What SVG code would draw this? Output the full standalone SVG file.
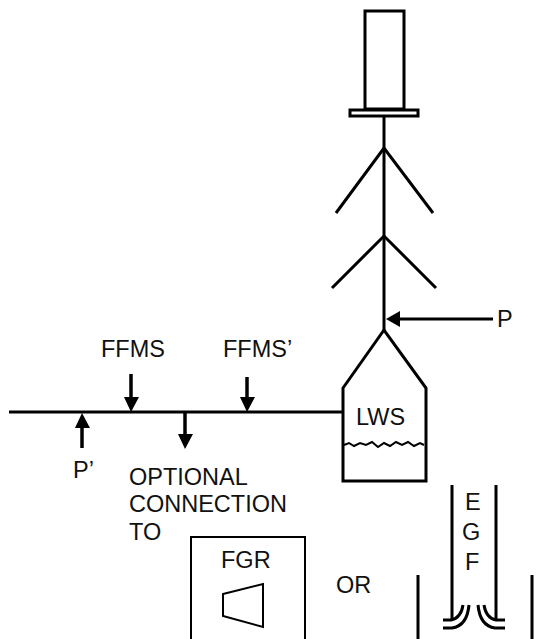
<svg xmlns="http://www.w3.org/2000/svg" width="538" height="639" viewBox="0 0 538 639">
<style>
.l{fill:none;stroke:#000;stroke-width:3}
.s{fill:none;stroke:#000;stroke-width:3.5}
.m{fill:none;stroke:#000;stroke-width:2}
.h{fill:#000;stroke:none}
text{font-family:"Liberation Sans",Arial,sans-serif;font-size:23.5px;fill:#111}
</style>
<rect width="538" height="639" fill="#fff"/>
<g id="connectors">
<path class="l" d="M384 117V330"/>
<path class="l" d="M336 213L384 148L433 213"/>
<path class="l" d="M332 288L384 236L436 288"/>
<path class="l" d="M9 412H343"/>
<path class="l" d="M493 319H398"/><path class="h" d="M386 319L400 311V327Z"/>
<path class="s" d="M131 374V400"/><path class="h" d="M131 412L124 397H139Z"/>
<path class="s" d="M247 377V400"/><path class="h" d="M247 412L240 397H255Z"/>
<path class="s" d="M82 448V425"/><path class="h" d="M82 413L75 428H90Z"/>
<path class="s" d="M185 413V437"/><path class="h" d="M185 449L178 434H193Z"/>
</g>
<g id="tank"><path class="l" d="M365 11H404V109H365Z"/><rect class="l" x="350" y="110" width="68" height="6"/></g>
<g id="LWS"><path class="l" d="M343 388L384 330L426 388V481H343Z"/>
<path class="m" d="M344 445l5-2 5 3 6-3 6 2 6-3 6 5 6-4 6 3 6-4 6 3 6-3 6 4 6-3 4 2"/>
<text x="356" y="425">LWS</text></g>
<g id="P"><text x="497" y="327">P</text></g>
<g id="P2"><text x="73" y="478">P’</text></g>
<g id="FFMS"><text x="101" y="357">FFMS</text></g>
<g id="FFMS2"><text x="223" y="357">FFMS’</text></g>
<g id="optional"><text x="129" y="485">OPTIONAL</text><text x="129" y="512">CONNECTION</text><text x="129" y="540">TO</text></g>
<g id="FGR"><path class="m" d="M191 639V537H305V639"/><text x="221" y="568">FGR</text><path class="m" d="M223 594L263 584V627L223 616Z"/></g>
<g id="OR"><text x="336" y="593">OR</text></g>
<g id="EGF"><text x="465" y="510">E</text><text x="462" y="540">G</text><text x="465" y="570">F</text>
<path class="l" d="M452 485V620M496 485V620M418 575V639M532 575V639"/>
<path class="l" d="M443 620H451Q461 618 463 605M443 628H452Q467 626 469 605M505 620H496Q486 618 484 605M505 628H495Q480 626 478 605"/></g>
</svg>
